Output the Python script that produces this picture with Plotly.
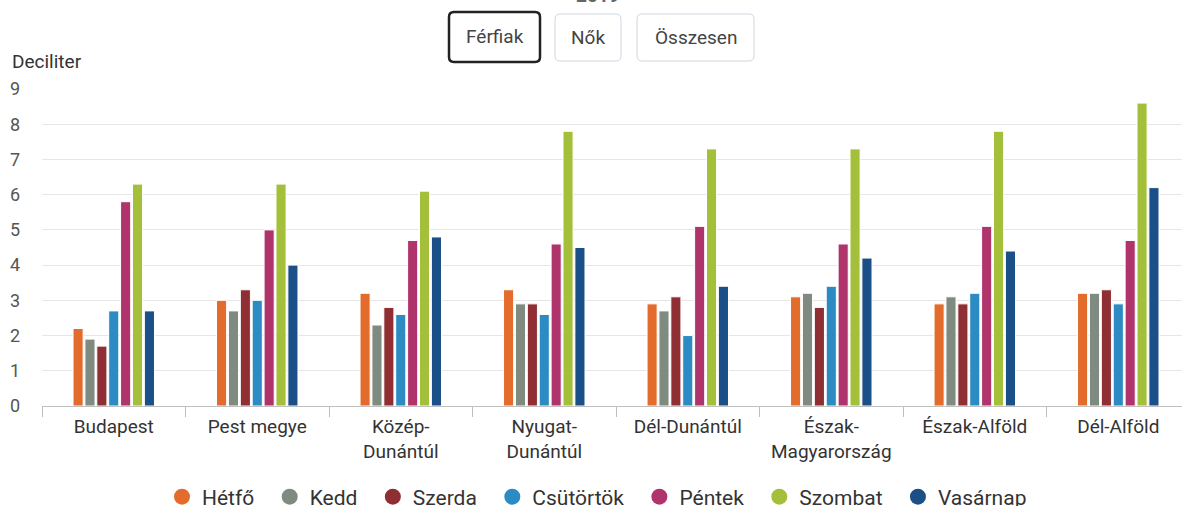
import plotly.graph_objects as go

# ── Data ─────────────────────────────────────────────────────────────────────
REGIONS = [
    "Budapest", "Pest megye", "Közép-<br>Dunántúl", "Nyugat-<br>Dunántúl",
    "Dél-Dunántúl", "Észak-<br>Magyarország", "Észak-Alföld", "Dél-Alföld",
]
DAYS = ["Hétfő", "Kedd", "Szerda", "Csütörtök", "Péntek", "Szombat", "Vasárnap"]

hetfo     = [2.2, 3.0, 3.2, 3.3, 2.9, 3.1, 2.9, 3.2]
kedd      = [1.9, 2.7, 2.3, 2.9, 2.7, 3.2, 3.1, 3.2]
szerda    = [1.7, 3.3, 2.8, 2.9, 3.1, 2.8, 2.9, 3.3]
csutortok = [2.7, 3.0, 2.6, 2.6, 2.0, 3.4, 3.2, 2.9]
pentek    = [5.8, 5.0, 4.7, 4.6, 5.1, 4.6, 5.1, 4.7]
szombat   = [6.3, 6.3, 6.1, 7.8, 7.3, 7.3, 7.8, 8.6]
vasarnap  = [2.7, 4.0, 4.8, 4.5, 3.4, 4.2, 4.4, 6.2]

SERIES = [hetfo, kedd, szerda, csutortok, pentek, szombat, vasarnap]
COLORS = ["#e36b2b", "#7f8a80", "#8f2e33", "#2b8bc2", "#af346b", "#a4bf3a", "#1b4f87"]

Y_TICKS = list(range(0, 10))
BUTTONS = ["Férfiak", "Nők", "Összesen"]
TITLE = "2019"

# ── Geometry helpers (pixel -> paper) ────────────────────────────────────────
W, H = 1182, 506
ML, MT, MB = 42, 89, 100
PW, PH = W - ML, H - MT - MB


def px(x):
    return (x - ML) / PW


def py(y):
    return (H - MB - y) / PH


def rounded_rect(x0, y0, x1, y1, r=5):
    return (
        f"M {px(x0 + r)},{py(y0)} L {px(x1 - r)},{py(y0)} "
        f"Q {px(x1)},{py(y0)} {px(x1)},{py(y0 + r)} "
        f"L {px(x1)},{py(y1 - r)} Q {px(x1)},{py(y1)} {px(x1 - r)},{py(y1)} "
        f"L {px(x0 + r)},{py(y1)} Q {px(x0)},{py(y1)} {px(x0)},{py(y1 - r)} "
        f"L {px(x0)},{py(y0 + r)} Q {px(x0)},{py(y0)} {px(x0 + r)},{py(y0)} Z"
    )


fig = go.Figure()

for name, vals, color in zip(DAYS, SERIES, COLORS):
    fig.add_trace(go.Bar(
        name=name, x=REGIONS, y=vals,
        marker=dict(color=color, line=dict(color="white", width=1)),
        legendgroup=name, showlegend=False,
    ))
    # round legend symbols, like the original (nbsp pads the item spacing)
    fig.add_trace(go.Scatter(
        name=name + "\u00a0\u00a0", x=[None], y=[None], mode="markers",
        marker=dict(color=color, size=18, symbol="circle"),
        legendgroup=name, showlegend=True,
    ))

# Buttons (Férfiak is the active one)
btn_boxes = [(449, 12, 540, 62), (555, 14, 621, 61), (637, 14, 754, 61)]
shapes, annotations = [], []
for i, (label, (x0, y0, x1, y1)) in enumerate(zip(BUTTONS, btn_boxes)):
    active = i == 0
    shapes.append(dict(
        type="path", xref="paper", yref="paper",
        path=rounded_rect(x0, y0, x1, y1),
        line=dict(color="#222222" if active else "#cfd6e0", width=2.5 if active else 1),
        fillcolor="white",
    ))
    annotations.append(dict(
        xref="paper", yref="paper", x=px((x0 + x1) / 2), y=py((y0 + y1) / 2),
        text=label, showarrow=False, xanchor="center", yanchor="middle",
        font=dict(size=19, color="#444444"),
    ))

annotations.append(dict(
    xref="paper", yref="paper", x=px(10), y=py(61), text="Deciliter",
    showarrow=False, xanchor="left", yanchor="middle",
    font=dict(size=19, color="#333333"),
))
annotations.append(dict(
    xref="paper", yref="paper", x=px(598), y=py(-5), text=f"<b>{TITLE}</b>",
    showarrow=False, xanchor="center", yanchor="middle",
    font=dict(size=19, color="#666666"),
))

fig.update_layout(
    width=W, height=H,
    barmode="group", bargap=0.42, bargroupgap=0.15,
    font=dict(family="Roboto, sans-serif", color="#333333"),
    plot_bgcolor="white", paper_bgcolor="white",
    margin=dict(l=ML, r=0, t=MT, b=MB, autoexpand=False),
    xaxis=dict(
        range=[-0.5, 7.444], type="category",
        showline=True, linecolor="#c0c0c0", linewidth=1,
        ticks="outside", tickson="boundaries", ticklen=10, tickcolor="#c0c0c0",
        tickfont=dict(size=19, color="#333333"), ticklabelstandoff=3,
        showgrid=False, fixedrange=True,
    ),
    yaxis=dict(
        range=[0, 9], tickvals=Y_TICKS, showgrid=True, gridcolor="#e6e6e6",
        zeroline=False, tickfont=dict(size=18, color="#555555"),
        ticklabelstandoff=21, fixedrange=True,
    ),
    legend=dict(
        orientation="h", x=px(602), xanchor="center", y=py(497), yanchor="middle",
        font=dict(size=21, color="#333333"), itemwidth=30,
        bgcolor="rgba(0,0,0,0)",
    ),
    shapes=shapes,
    annotations=annotations,
)

# the page's default body margin would shift the chart by 8px
fig.write_html(
    "out.html",
    config={"displayModeBar": False},
    post_script="document.body.style.margin='0';",
)
